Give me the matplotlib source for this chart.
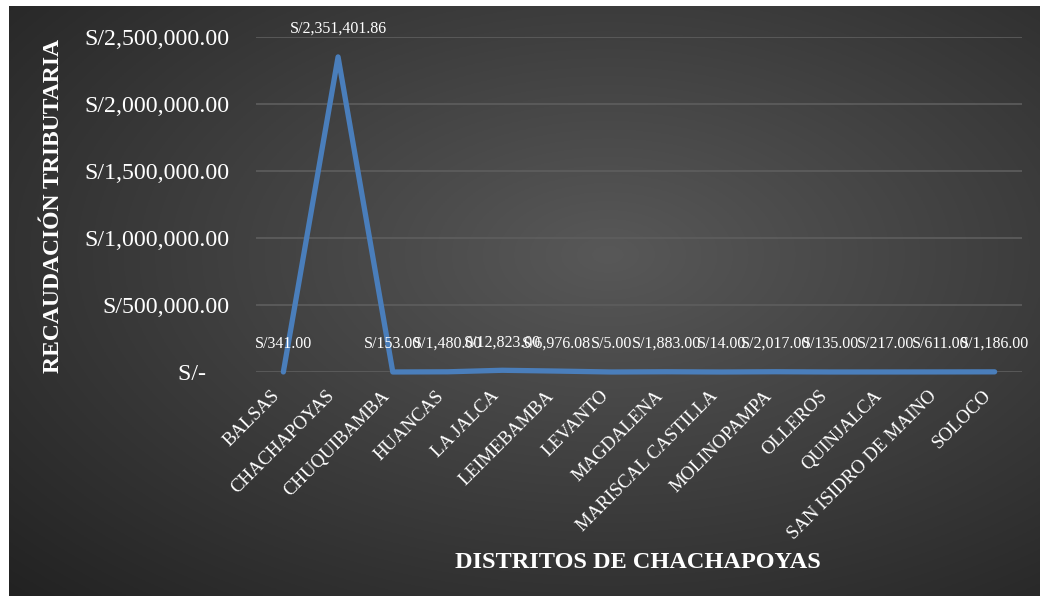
import numpy as np
import matplotlib
matplotlib.use("Agg")
import matplotlib.pyplot as plt
from matplotlib.ticker import FuncFormatter, FixedLocator

districts = ["BALSAS", "CHACHAPOYAS", "CHUQUIBAMBA", "HUANCAS", "LA JALCA",
             "LEIMEBAMBA", "LEVANTO", "MAGDALENA", "MARISCAL CASTILLA",
             "MOLINOPAMPA", "OLLEROS", "QUINJALCA", "SAN ISIDRO DE MAINO", "SOLOCO"]
values = [341.00, 2351401.86, 153.00, 1480.00, 12823.00, 6976.08, 5.00,
          1883.00, 14.00, 2017.00, 135.00, 217.00, 611.00, 1186.00]
yticks = [0, 500000, 1000000, 1500000, 2000000, 2500000]

plt.rcParams['font.family'] = ['Liberation Serif', 'DejaVu Serif']
W, H = 1049, 602
fig = plt.figure(figsize=(W / 100, H / 100), dpi=100, facecolor='white')

# background with radial gradient
bg = fig.add_axes([9 / W, 6 / H, (1040 - 9) / W, (596 - 6) / H])
ny, nx = 300, 520
yy, xx = np.mgrid[0:ny, 0:nx]
cx, cy = nx * 0.58, ny * 0.42
r = np.sqrt(((xx - cx) / nx) ** 2 + ((yy - cy) / ny) ** 2)
r = r / r.max()
c0 = np.array([0x58, 0x58, 0x58]) / 255
c1 = np.array([0x22, 0x22, 0x22]) / 255
img = c0[None, None, :] * (1 - r[..., None]) + c1[None, None, :] * r[..., None]
bg.imshow(img, aspect='auto', extent=[0, 1, 0, 1])
bg.set_axis_off()

left, right = 256 / W, 1022 / W
bottom, top = 1 - 372 / H, 1 - 37 / H
ax = fig.add_axes([left, bottom, right - left, top - bottom])
ax.patch.set_alpha(0)
x = np.arange(len(districts)) + 0.5
ax.plot(x, values, color='#4A7EBB', lw=3.8, solid_joinstyle='round',
        solid_capstyle='round', zorder=3, clip_on=False)

for xi, v in zip(x, values):
    ax.annotate("S/{:,.2f}".format(v), (xi, v), xytext=(0, 20),
                textcoords='offset points', ha='center', va='center',
                color='white', fontsize=11.5, zorder=4, annotation_clip=False)

ax.set_xlim(0, len(districts))
ax.set_ylim(0, 2500000)
ax.yaxis.set_major_locator(FixedLocator(yticks))
ax.yaxis.set_major_formatter(FuncFormatter(
    lambda v, p: "S/-    " if v == 0 else "S/{:,.2f}".format(v)))
ax.set_xticks(x)
ax.set_xticklabels(districts, rotation=45, ha='right', va='top',
                   fontsize=13.5, color='white')
ax.tick_params(axis='x', length=0, pad=11)
ax.tick_params(axis='y', length=0, pad=19, labelsize=17.2, labelcolor='white')
ax.grid(axis='y', color='#5E5E5E', lw=1.2)
ax.set_axisbelow(True)
for s in ax.spines.values():
    s.set_visible(False)

fig.text(54 / W, 1 - 206 / H, "RECAUDACIÓN TRIBUTARIA", rotation=90,
         ha='center', va='center', color='white', fontsize=17, fontweight='bold')
fig.text(638 / W, 1 - 563 / H, "DISTRITOS DE CHACHAPOYAS",
         ha='center', va='center', color='white', fontsize=17.5, fontweight='bold')

fig.savefig("out.png", dpi=100, facecolor='white')
